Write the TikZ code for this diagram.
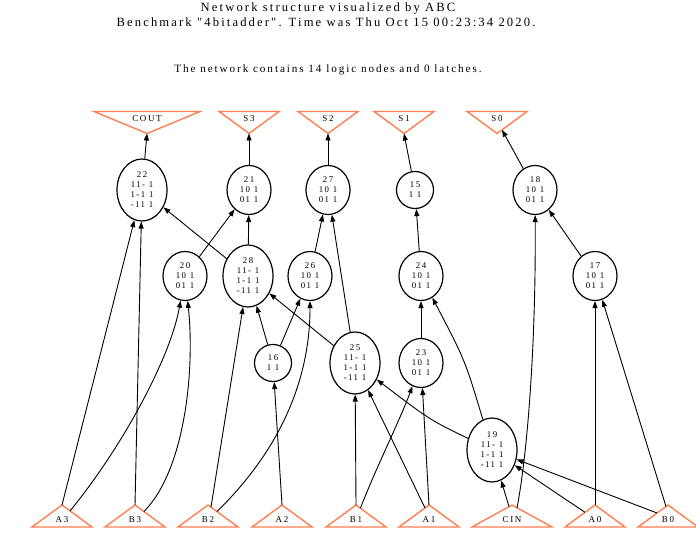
\documentclass[tikz,border=0pt]{standalone}
\usepackage{fontspec}
\setmainfont{Liberation Serif}
\newfontfamily\gvfam[LetterSpace=17]{Liberation Serif}
\usetikzlibrary{shapes.geometric,arrows.meta,calc}
\definecolor{iocol}{RGB}{255,127,80}
\newcommand{\gvtitle}{\gvfam\fontsize{12.6bp}{14bp}\selectfont}
\newcommand{\gvsub}{\gvfam\fontsize{11.2bp}{13bp}\selectfont}
\newcommand{\gvnode}{\gvfam\fontsize{8.8bp}{10bp}\selectfont}
\newcommand{\gvio}{\gvfam\fontsize{9bp}{10bp}\selectfont}
\tikzset{
  ell/.style={draw, ellipse, line width=1.2bp, inner sep=0pt, align=center,
    font=\gvnode, minimum width=44bp, minimum height=49bp},
  bigell/.style={ell, minimum width=50bp, minimum height=62bp},
  smallell/.style={ell, minimum width=37bp, minimum height=37bp},
  tri/.style={draw=iocol, line width=1.4bp, line join=miter},
  iolab/.style={inner sep=0pt, anchor=base, font=\gvio},
  ttl/.style={inner sep=0pt, anchor=base},
  edge/.style={draw, line width=0.9bp, -{Triangle[length=7bp,width=5bp]}},
}
\begin{document}
\begin{tikzpicture}[x=1bp,y=-1bp]
\useasboundingbox[fill=white] (0,0) rectangle (696,534);
% titles
\node[ttl, font=\gvtitle] (t1) at (328,11.5) {Network structure visualized by ABC};
\node[ttl, font=\gvtitle] (t2) at (326,27) {Benchmark "4bitadder". Time was Thu Oct 15 00:23:34 2020.};
\node[ttl, font=\gvsub] (t3) at (328,72.5) {The network contains 14 logic nodes and 0 latches.};
% outputs
\node[iolab] (COUT) at (147,121.5) {COUT};
\draw[tri] (94,111.5) -- (200,111.5) -- (147,133.5) -- cycle;
\coordinate (COUTa) at (147,133.5);
\node[iolab] (S3) at (249,121.5) {S3};
\draw[tri] (219,111.5) -- (279,111.5) -- (249,133.5) -- cycle;
\coordinate (S3a) at (249,133.5);
\node[iolab] (S2) at (328,121.5) {S2};
\draw[tri] (298,111.5) -- (358,111.5) -- (328,133.5) -- cycle;
\coordinate (S2a) at (328,133.5);
\node[iolab] (S1) at (404,121.5) {S1};
\draw[tri] (374,111.5) -- (434,111.5) -- (404,133.5) -- cycle;
\coordinate (S1a) at (404,133.5);
\node[iolab] (S0) at (497,121.5) {S0};
\draw[tri] (467,111.5) -- (527,111.5) -- (497,133.5) -- cycle;
\coordinate (S0a) at (497,133.5);
% inputs
\node[iolab] (A3) at (62,522) {A3};
\draw[tri] (32,527) -- (92,527) -- (62,505) -- cycle;
\coordinate (A3a) at (62,505);
\node[iolab] (B3) at (135,522) {B3};
\draw[tri] (105,527) -- (165,527) -- (135,505) -- cycle;
\coordinate (B3a) at (135,505);
\node[iolab] (B2) at (208,522) {B2};
\draw[tri] (178,527) -- (238,527) -- (208,505) -- cycle;
\coordinate (B2a) at (208,505);
\node[iolab] (A2) at (282,522) {A2};
\draw[tri] (252,527) -- (312,527) -- (282,505) -- cycle;
\coordinate (A2a) at (282,505);
\node[iolab] (B1) at (356,522) {B1};
\draw[tri] (326,527) -- (386,527) -- (356,505) -- cycle;
\coordinate (B1a) at (356,505);
\node[iolab] (A1) at (429,522) {A1};
\draw[tri] (399,527) -- (459,527) -- (429,505) -- cycle;
\coordinate (A1a) at (429,505);
\node[iolab] (CIN) at (512,522) {CIN};
\draw[tri] (472,527) -- (552,527) -- (512,505) -- cycle;
\coordinate (CINa) at (512,505);
\node[iolab] (A0) at (595,522) {A0};
\draw[tri] (565,527) -- (625,527) -- (595,505) -- cycle;
\coordinate (A0a) at (595,505);
\node[iolab] (B0) at (668,522) {B0};
\draw[tri] (638,527) -- (698,527) -- (668,505) -- cycle;
\coordinate (B0a) at (668,505);
% logic nodes
\node[bigell] (n22) at (142,190) {22\\11- 1\\1-1 1\\-11 1};
\node[ell] (n21) at (249,190) {21\\10 1\\01 1};
\node[ell] (n27) at (328,190) {27\\10 1\\01 1};
\node[smallell] (n15) at (415,190) {15\\1 1};
\node[ell] (n18) at (535,190) {18\\10 1\\01 1};
\node[ell] (n20) at (185,276) {20\\10 1\\01 1};
\node[bigell] (n28) at (248,276) {28\\11- 1\\1-1 1\\-11 1};
\node[ell] (n26) at (310,276) {26\\10 1\\01 1};
\node[ell] (n24) at (421,276) {24\\10 1\\01 1};
\node[ell] (n17) at (595,276) {17\\10 1\\01 1};
\node[smallell] (n16) at (273,363) {16\\1 1};
\node[bigell] (n25) at (355,363) {25\\11- 1\\1-1 1\\-11 1};
\node[ell] (n23) at (421,363) {23\\10 1\\01 1};
\node[bigell, minimum height=64bp] (n19) at (492,450) {19\\11- 1\\1-1 1\\-11 1};
% edges
\draw[edge] (n22) -- (COUTa);
\draw[edge] (n21) -- (S3a);
\draw[edge] (n27) -- (S2a);
\draw[edge] (n15) -- (S1a);
\draw[edge] (n18) -- ($(S0a)+(5,-3.7)$);
\draw[edge] (n28) -- (n22);
\draw[edge] (A3a) -- (n22);
\draw[edge] (B3a) -- (n22);
\draw[edge] (n20) -- (n21);
\draw[edge] (n28) -- (n21);
\draw[edge] (n26) -- (n27);
\draw[edge] (n25) -- (n27);
\draw[edge] (n24) -- (n15);
\draw[edge] ($(CINa)+(5,3)$) .. controls (528,450) and (536,340) .. (n18);
\draw[edge] (n17) -- (n18);
\draw[edge] ($(A3a)+(8,6)$) .. controls (120,450) and (170,360) .. (n20);
\draw[edge] ($(B3a)+(9,6.5)$) .. controls (185,470) and (195,370) .. (n20);
\draw[edge] ($(B2a)+(3,2)$) -- (n28);
\draw[edge] ($(B2a)+(9,6.5)$) .. controls (280,450) and (310,380) .. (n26);
\draw[edge] (A2a) -- (n16);
\draw[edge] (n16) -- (n28);
\draw[edge] (n16) -- (n26);
\draw[edge] (n25) -- (n28);
\draw[edge] (B1a) -- (n25);
\draw[edge] ($(A1a)+(-4,3)$) -- (n25);
\draw[edge] (n19) .. controls (430,420) .. (n25);
\draw[edge] ($(B1a)+(4.5,3)$) .. controls (375,470) and (400,420) .. (n23);
\draw[edge] (A1a) -- (n23);
\draw[edge] (n23) -- (n24);
\draw[edge] (n19) .. controls (465,360) .. (n24);
\draw[edge] (A0a) -- (n17);
\draw[edge] ($(B0a)+(-2,1.5)$) -- (n17);
\draw[edge] ($(CINa)+(-3,1.6)$) -- (n19);
\draw[edge] ($(A0a)+(-10,7.3)$) -- (n19);
\draw[edge] ($(B0a)+(-11,8)$) -- (n19);
\end{tikzpicture}
\end{document}
